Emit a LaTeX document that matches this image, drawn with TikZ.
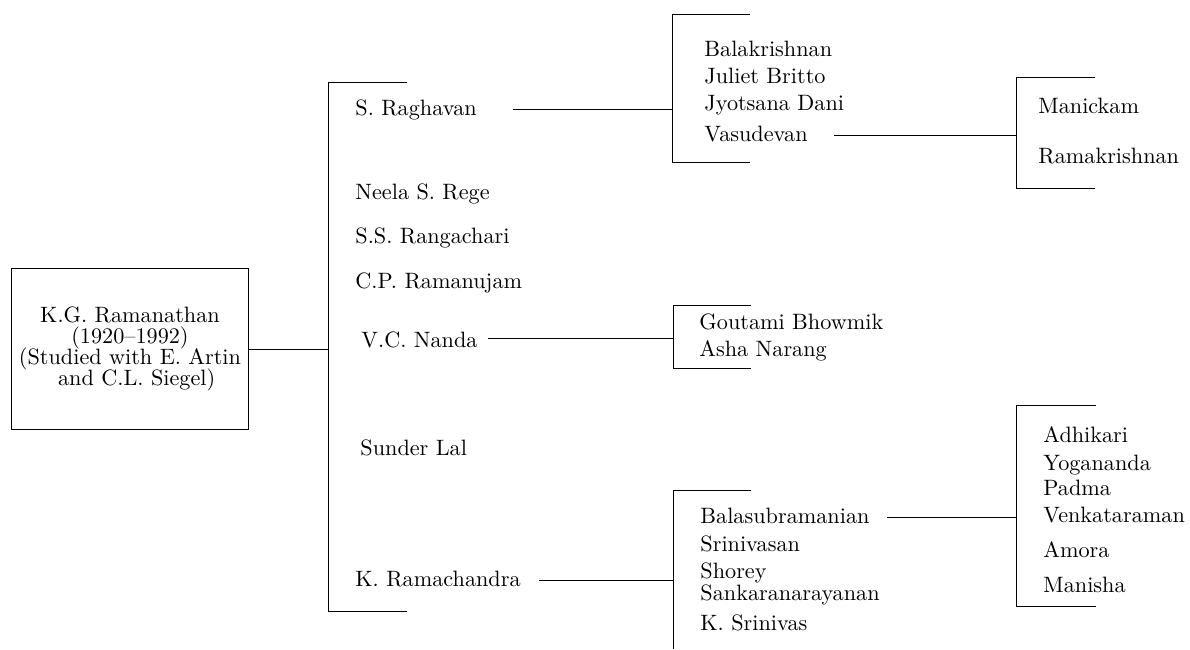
\documentclass[tikz,border=0pt]{standalone}
\usetikzlibrary{positioning}
\tikzset{name node/.style={anchor=base west,inner sep=0pt}}
\tikzset{root node/.style={draw,rectangle,align=center,minimum width=107pt,minimum height=72.5pt,inner sep=2pt,font=\fontsize{10pt}{11pt}\selectfont}}

\begin{document}
\begin{tikzpicture}[x=0.45pt,y=-0.45pt]
    \useasboundingbox (0,0) rectangle (1190,649);

    % root
    \node[root node] (kgr) at (130,349) {K.G. Ramanathan\\[-1.5pt](1920--1992)\\[-1.5pt](Studied with E. Artin\\[-1.5pt]\hspace*{0.6em}and C.L. Siegel)};

    % brackets
    \coordinate (b1t) at (328,82);  \coordinate (b1b) at (328,611);
    \coordinate (b2t) at (672,14);  \coordinate (b2b) at (672,162);
    \coordinate (b3t) at (1016,77); \coordinate (b3b) at (1016,188);
    \coordinate (b4t) at (1016,405); \coordinate (b4b) at (1016,606);
    \coordinate (b5t) at (673,305); \coordinate (b5b) at (673,368);
    \coordinate (b6t) at (673,490); \coordinate (b6b) at (673,649);
    \draw (b1t) ++(79,0) -- (b1t) -- (b1b) -- ++(79,0);
    \draw (b2t) ++(78,0) -- (b2t) -- (b2b) -- ++(78,0);
    \draw (b3t) ++(79,0) -- (b3t) -- (b3b) -- ++(79,0);
    \draw (b4t) ++(80,0) -- (b4t) -- (b4b) -- ++(80,0);
    \draw (b5t) ++(78,0) -- (b5t) -- (b5b) -- ++(78,0);
    \draw (b6t) ++(78,0) -- (b6t) -- (b6b);

    % students
    \node[name node] (rag) at (355,115) {S. Raghavan};
    \node[name node] (nee) at (355,199) {Neela S. Rege};
    \node[name node] (ssr) at (355,243) {S.S. Rangachari};
    \node[name node] (cpr) at (355,288) {C.P. Ramanujam};
    \node[name node] (vcn) at (361,347) {V.C. Nanda};
    \node[name node] (sun) at (360,455) {Sunder Lal};
    \node[name node] (kra) at (355,586) {K. Ramachandra};

    % students of S. Raghavan
    \node[name node] (bal) at (704,56) {Balakrishnan};
    \node[below=12.15pt of bal.base west,name node] (jul) {Juliet Britto};
    \node[below=12.15pt of jul.base west,name node] (jyo) {Jyotsana Dani};
    \node[below=13.95pt of jyo.base west,name node] (vas) {Vasudevan};

    % students of Vasudevan
    \node[name node] (man) at (1038,113) {Manickam};
    \node[below=22.5pt of man.base west,name node] (ram) {Ramakrishnan};

    % students of V.C. Nanda
    \node[name node] (gou) at (699,329) {Goutami Bhowmik};
    \node[below=12.15pt of gou.base west,name node] (ash) {Asha Narang};

    % students of K. Ramachandra
    \node[name node] (bsu) at (700,523) {Balasubramanian};
    \node[below=12.6pt of bsu.base west,name node] (sri) {Srinivasan};
    \node[below=12.15pt of sri.base west,name node] (sho) {Shorey};
    \node[below=9.9pt of sho.base west,name node] (san) {Sankaranarayanan};
    \node[below=13.5pt of san.base west,name node] (ksr) {K. Srinivas};

    % students of Balasubramanian
    \node[name node] (adh) at (1043,442) {Adhikari};
    \node[below=12.6pt of adh.base west,name node] (yog) {Yogananda};
    \node[below=11.25pt of yog.base west,name node] (pad) {Padma};
    \node[below=12.15pt of pad.base west,name node] (ven) {Venkataraman};
    \node[below=15.75pt of ven.base west,name node] (amo) {Amora};
    \node[below=15.75pt of amo.base west,name node] (mni) {Manisha};

    % connectors
    \draw (kgr.east) -- (kgr.east -| b1t);
    \draw ([shift={(16pt,2.7pt)}]rag.base east) -- ([yshift=2.7pt]rag.base east -| b2t);
    \draw ([shift={(11.7pt,2.7pt)}]vas.base east) -- ([yshift=2.7pt]vas.base east -| b3t);
    \draw ([shift={(4.5pt,4pt)}]vcn.base east) -- ([yshift=4pt]vcn.base east -| b5t);
    \draw ([shift={(8pt,2.7pt)}]kra.base east) -- ([yshift=2.7pt]kra.base east -| b6t);
    \draw ([shift={(7.6pt,2.7pt)}]bsu.base east) -- ([yshift=2.7pt]bsu.base east -| b4t);

\end{tikzpicture}
\end{document}
